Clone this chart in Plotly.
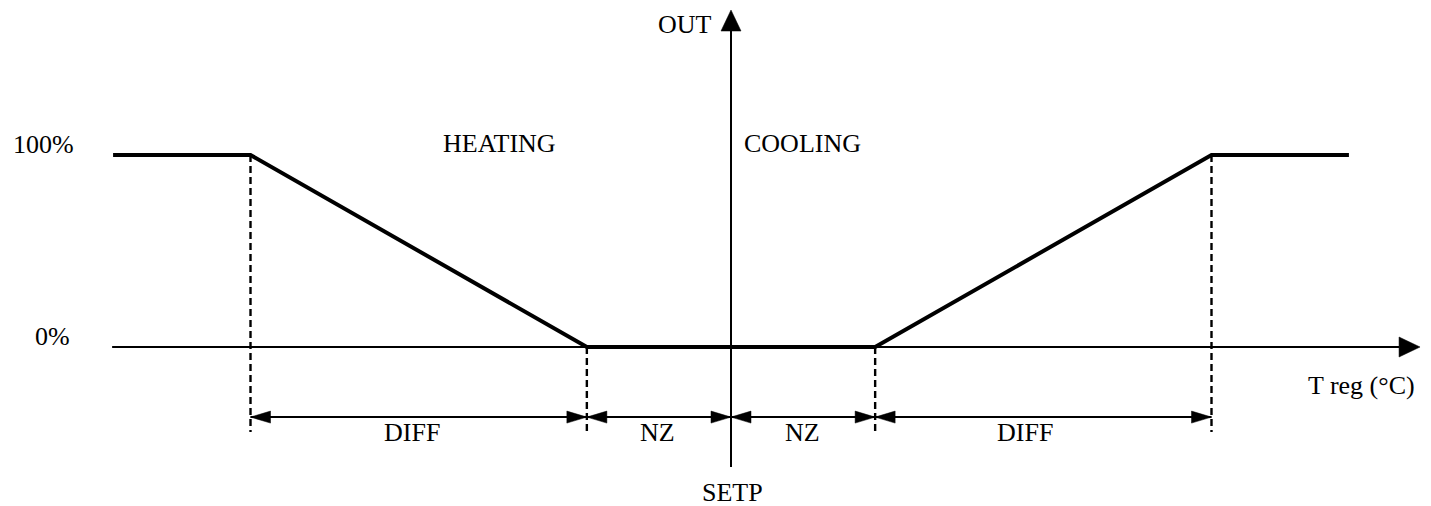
import plotly.graph_objects as go

# ---------------- data (temperature relative to SETP, output in %) ----------------
heating_x = [-6.43, -5.0, -1.5, 0.0]
heating_y = [100, 100, 0, 0]
cooling_x = [0.0, 1.5, 5.0, 6.43]
cooling_y = [0, 0, 100, 100]
zone_bounds = [-5.0, -1.5, 0.0, 1.5, 5.0]
zone_labels = ["DIFF", "NZ", "NZ", "DIFF"]
level_values = [0, 100]
level_labels = ["0%", "100%"]
x_axis_extent = [-6.44, 7.17]
y_axis_extent = [-62.5, 175.5]
dim_level = -36.5
dash_bottom = -44.3

# ---------------- geometry helpers ----------------
W, H = 1431, 506
SX = 96.1      # px per x unit
SY = 1.92      # px per y unit
X0_PX, Y0_PX = 731, 347
xr = [-X0_PX / SX, (W - X0_PX) / SX]
yr = [-(H - Y0_PX) / SY, Y0_PX / SY]


def dx(p):
    return p / SX


def dy(p):
    return p / SY


FONT = dict(family="Liberation Serif, Times New Roman, serif", size=26, color="black")
fig = go.Figure()


def line(xs, ys, width, dash=None):
    fig.add_trace(go.Scatter(x=xs, y=ys, mode="lines", hoverinfo="skip", showlegend=False,
                             line=dict(color="black", width=width, dash=dash)))


def tri(pts):
    xs = [p[0] for p in pts] + [pts[0][0]]
    ys = [p[1] for p in pts] + [pts[0][1]]
    fig.add_trace(go.Scatter(x=xs, y=ys, mode="lines", fill="toself", fillcolor="black",
                             line=dict(color="black", width=0.5), hoverinfo="skip", showlegend=False))


# axes
ax_len, ax_half = 21, 10
line([x_axis_extent[0], x_axis_extent[1] - dx(ax_len)], [0, 0], 2)
tri([(x_axis_extent[1], 0), (x_axis_extent[1] - dx(ax_len), dy(ax_half)),
     (x_axis_extent[1] - dx(ax_len), -dy(ax_half))])
line([0, 0], [y_axis_extent[0], y_axis_extent[1] - dy(ax_len)], 2)
tri([(0, y_axis_extent[1]), (-dx(ax_half), y_axis_extent[1] - dy(ax_len)),
     (dx(ax_half), y_axis_extent[1] - dy(ax_len))])

# dashed guides
for b in zone_bounds:
    if b == 0:
        continue
    top = 100 if abs(b) >= 5 else 0
    line([b, b], [top, dash_bottom], 2.4, dash="7px,4px")

# dimension lines with arrows
d_len, d_half = 20, 6
for i in range(len(zone_labels)):
    a, b = zone_bounds[i], zone_bounds[i + 1]
    line([a, b], [dim_level, dim_level], 2)
    tri([(a, dim_level), (a + dx(d_len), dim_level + dy(d_half)), (a + dx(d_len), dim_level - dy(d_half))])
    tri([(b, dim_level), (b - dx(d_len), dim_level + dy(d_half)), (b - dx(d_len), dim_level - dy(d_half))])

# characteristic curves
line(heating_x, heating_y, 4)
line(cooling_x, cooling_y, 4)

# ---------------- texts ----------------
ann = []


def text(s, x, y, xs=0, ys=0, xanchor="center"):
    ann.append(dict(text=s, x=x, y=y, xref="x", yref="y", xshift=xs, yshift=ys, showarrow=False,
                    xanchor=xanchor, yanchor="middle", font=FONT))


text(level_labels[1], heating_x[0], level_values[1], xs=-70, ys=11)
text(level_labels[0], heating_x[0], level_values[0], xs=-61, ys=11)
text("OUT", 0, y_axis_extent[1], xs=-46, ys=-14)
text("HEATING", (zone_bounds[0] + zone_bounds[2]) / 2, 100, xs=9, ys=11.5)
text("COOLING", (zone_bounds[2] + zone_bounds[3]) / 2, 100, xs=-1, ys=11.5)
shifts = [-7, -1, -1, -18]
for i, lab in enumerate(zone_labels):
    text(lab, (zone_bounds[i] + zone_bounds[i + 1]) / 2, dim_level, xs=shifts[i], ys=-15)
text("SETP", 0, y_axis_extent[0], xs=1, ys=-25)
text("T reg (°C)", x_axis_extent[1], 0, xs=-3, ys=-38, xanchor="right")

fig.update_layout(
    width=W, height=H, autosize=False,
    margin=dict(l=0, r=0, t=0, b=0),
    paper_bgcolor="white", plot_bgcolor="white",
    xaxis=dict(range=xr, visible=False, fixedrange=True),
    yaxis=dict(range=yr, visible=False, fixedrange=True),
    annotations=ann,
    showlegend=False,
)

fig.write_html("out.html", config={"displayModeBar": False},
               post_script="document.body.style.margin='0';document.body.style.overflow='hidden';")
